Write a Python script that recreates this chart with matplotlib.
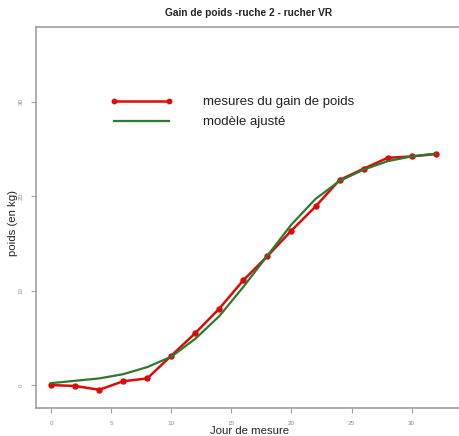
import numpy as np
import matplotlib
matplotlib.use("Agg")
import matplotlib.pyplot as plt
from matplotlib.lines import Line2D

plt.rcParams['font.family'] = ['Liberation Sans', 'DejaVu Sans']

# days of measurement and weight gain (kg)
jours = [0, 2, 4, 6, 8, 10, 12, 14, 16, 18, 20, 22, 24, 26, 28, 30, 32]
gain_mesure = [0.0, -0.1, -0.5, 0.4, 0.7, 3.1, 5.5, 8.1, 11.1, 13.65,
               16.35, 18.9, 21.7, 22.9, 24.05, 24.2, 24.45]
# fitted growth model evaluated on the same days
gain_modele = [0.2, 0.45, 0.7, 1.15, 1.9, 3.0, 4.9, 7.3, 10.4, 13.7,
               17.0, 19.7, 21.6, 22.8, 23.7, 24.2, 24.5]

x_ticks = [0, 5, 10, 15, 20, 25, 30]
y_ticks = [0, 10, 20, 30]

W, H = 460, 436
fig = plt.figure(figsize=(W / 100, H / 100), dpi=100)
ax = fig.add_axes([35.7 / W, (H - 408) / H, 1 - 35.7 / W, (408 - 27) / H])

rouge = '#dd0a0a'
vert = '#2d7a2d'

ax.plot(jours, gain_mesure, color=rouge, lw=1.8, marker='o', ms=3.6, zorder=3)
ax.plot(jours, gain_modele, color=vert, lw=1.6, zorder=4)

ax.set_xlim(-1.28, -1.28 + (W - 35.7) / 12.02)
ax.set_ylim(-2.43, 37.9)

gris = '#a0a0a0'
for s in ['left', 'bottom', 'top']:
    ax.spines[s].set_color(gris)
    ax.spines[s].set_linewidth(1.2)
ax.spines['right'].set_visible(False)

ax.set_xticks(x_ticks)
ax.set_yticks(y_ticks)
ax.tick_params(axis='both', colors=gris, labelcolor='#8a8a8a', labelsize=4.5,
               length=3.5, width=0.8, direction='out')
ax.tick_params(axis='x', pad=6)
ax.tick_params(axis='y', pad=5)
for lab in ax.get_yticklabels():
    lab.set_rotation(90)
    lab.set_va('center')

fig.text(249 / W, 1 - 13 / H, 'Gain de poids -ruche 2 - rucher VR',
         ha='center', va='center', fontsize=7.3, fontweight='bold', color='#222222')
fig.text(249.5 / W, 1 - 431 / H, 'Jour de mesure', ha='center', va='center',
         fontsize=8.2, color='#222222')
fig.text(13 / W, 1 - 223 / H, 'poids (en kg)', ha='center', va='center',
         rotation=90, fontsize=8.2, color='#222222')

handles = [
    Line2D([], [], color=rouge, lw=1.8, marker='o', ms=3.2),
    Line2D([], [], color=vert, lw=1.6),
]
leg = ax.legend(handles, ['mesures du gain de poids', 'modèle ajusté'],
                loc='upper left', bbox_to_anchor=(110 / W, 1 - 96 / H),
                bbox_transform=fig.transFigure, frameon=False, fontsize=9.5,
                handlelength=4.8, handletextpad=2.25, borderpad=0,
                borderaxespad=0, labelspacing=0.6, numpoints=2)
for t in leg.get_texts():
    t.set_color('#222222')

fig.savefig('out.png', dpi=100)
